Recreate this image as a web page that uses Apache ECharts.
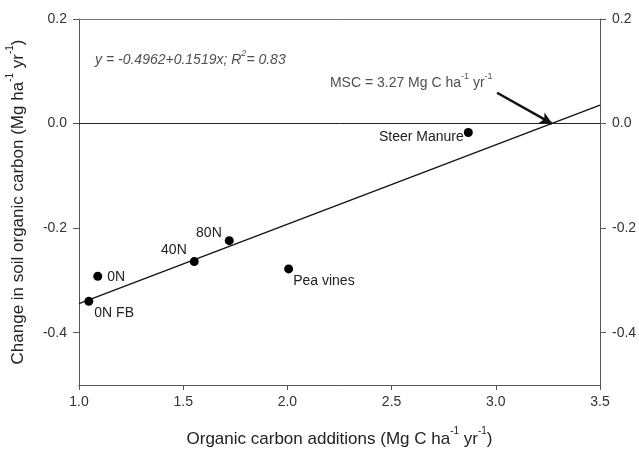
<!DOCTYPE html>
<html>
<head>
<meta charset="utf-8">
<script src="https://cdn.jsdelivr.net/npm/echarts@6/dist/echarts.min.js"></script>
<style>html,body{margin:0;padding:0;background:#fff}#c{width:639px;height:449px}</style>
</head>
<body>
<div id="c"></div>
<script>
// ---- data ----
const pointNames = ['0N FB', '0N', '40N', '80N', 'Pea vines', 'Steer Manure'];
const carbonAdded = [1.047, 1.090, 1.553, 1.721, 2.006, 2.868];
const socChange = [-0.340, -0.292, -0.264, -0.224, -0.278, -0.017];
const intercept = -0.4962;
const slope = 0.1519;
const msc = 3.27;
const xTicks = [1.0, 1.5, 2.0, 2.5, 3.0, 3.5];
const yTicks = [0.2, 0.0, -0.2, -0.4];
const arrowStart = [3.006, 0.059];
const eqAnchor = [1.077, 0.1245];
const mscAnchor = [2.204, 0.081];

// ---- label placement (style) ----
const labelPlace = {
  '0N FB': {position: 'right', distance: 1, offset: [0, 12]},
  '0N': {position: 'right', distance: 5, offset: [0, 1]},
  '40N': {position: 'left', distance: 3, offset: [0, -11]},
  '80N': {position: 'left', distance: 3, offset: [0, -8]},
  'Pea vines': {position: 'right', distance: 0, offset: [0, 12]},
  'Steer Manure': {position: 'left', distance: 0, offset: [0, 5]}
};

const FONT = 'Liberation Sans, Arial, sans-serif';
const TXT = '#333';
const AX = '#555';

const chart = echarts.init(document.getElementById('c'), null, {renderer: 'canvas'});

const supRich = {
  n: {fontSize: 17, color: '#222', fontFamily: FONT, lineHeight: 22, verticalAlign: 'bottom'},
  s: {fontSize: 10, color: '#222', fontFamily: FONT, lineHeight: 22, verticalAlign: 'top'}
};

const scatterData = pointNames.map((n, i) => ({
  name: n,
  value: [carbonAdded[i], socChange[i]],
  label: Object.assign({show: true, formatter: n}, labelPlace[n])
}));

const xMin = xTicks[0], xMax = xTicks[xTicks.length - 1];

chart.setOption({
  animation: false,
  backgroundColor: '#fff',
  grid: {left: 79, right: 39, top: 19, bottom: 64, containLabel: false, outerBoundsMode: 'none'},
  xAxis: [{
    type: 'value', min: xMin, max: xMax, interval: 0.5, position: 'bottom',
    axisLine: {show: true, onZero: false, lineStyle: {color: AX, width: 1}},
    axisTick: {show: true, length: 5, lineStyle: {color: AX}},
    axisLabel: {fontSize: 14, color: TXT, fontFamily: FONT, margin: 10, formatter: v => v.toFixed(1)},
    splitLine: {show: false},
    name: '{n|Organic carbon additions (Mg C ha}{s|-1}{n| yr}{s|-1}{n|)}',
    nameLocation: 'middle', nameGap: 41,
    nameTextStyle: {rich: supRich}
  }, {
    type: 'value', min: xMin, max: xMax, position: 'top',
    axisLine: {show: true, onZero: false, lineStyle: {color: '#777', width: 1}},
    axisTick: {show: false}, axisLabel: {show: false}, splitLine: {show: false}
  }],
  yAxis: [{
    type: 'value', min: -0.5, max: 0.2, position: 'left',
    axisLine: {show: true, onZero: false, lineStyle: {color: AX, width: 1}},
    axisTick: {show: true, length: 6, customValues: yTicks, lineStyle: {color: AX}},
    axisLabel: {fontSize: 14, color: TXT, fontFamily: FONT, margin: 12, customValues: yTicks, formatter: v => v.toFixed(1)},
    splitLine: {show: false},
    name: '{n|Change in soil organic carbon (Mg ha}{s|-1}{n| yr}{s|-1}{n|)}',
    nameLocation: 'middle', nameGap: 52, nameRotate: 90,
    nameTextStyle: {rich: supRich}
  }, {
    type: 'value', min: -0.5, max: 0.2, position: 'right',
    axisLine: {show: true, onZero: false, lineStyle: {color: AX, width: 1}},
    axisTick: {show: true, length: 6, customValues: yTicks, lineStyle: {color: AX}},
    axisLabel: {fontSize: 14, color: TXT, fontFamily: FONT, margin: 12, customValues: yTicks, formatter: v => v.toFixed(1)},
    splitLine: {show: false}
  }],
  series: [{
    type: 'line',
    data: [[xMin, intercept + slope * xMin], [xMax, intercept + slope * xMax]],
    symbol: 'none',
    lineStyle: {color: '#111', width: 1.3},
    z: 2,
    markLine: {
      silent: true, animation: false,
      symbol: ['none', 'none'],
      label: {show: false},
      lineStyle: {color: '#222', width: 1, type: 'solid'},
      data: [{yAxis: 0}]
    }
  }, {
    type: 'line',
    data: [],
    markLine: {
      silent: true, animation: false,
      symbol: ['none', 'arrow'], symbolSize: [9, 12],
      label: {show: false},
      lineStyle: {color: '#111', width: 2.5, type: 'solid'},
      data: [[{coord: arrowStart}, {coord: [msc, 0]}]]
    }
  }, {
    type: 'scatter',
    data: scatterData,
    symbol: 'circle', symbolSize: 9,
    itemStyle: {color: '#000', opacity: 1},
    label: {fontSize: 14, color: '#222', fontFamily: FONT},
    z: 5
  }, {
    type: 'scatter',
    symbolSize: 0,
    silent: true,
    data: [{
      value: eqAnchor,
      label: {
        show: true, position: 'right', distance: 0,
        formatter: '{n|y = -0.4962+0.1519x; R}{s|2}{n|= 0.83}',
        rich: {
          n: {fontSize: 14, fontStyle: 'italic', color: '#222', fontFamily: FONT, lineHeight: 18, verticalAlign: 'bottom'},
          s: {fontSize: 9, fontStyle: 'italic', color: '#222', fontFamily: FONT, lineHeight: 18, verticalAlign: 'top'}
        }
      }
    }, {
      value: mscAnchor,
      label: {
        show: true, position: 'right', distance: 0,
        formatter: '{n|MSC = ' + msc.toFixed(2) + ' Mg C ha}{s|-1}{n| yr}{s|-1}',
        rich: {
          n: {fontSize: 14, color: '#222', fontFamily: FONT, lineHeight: 18, verticalAlign: 'bottom'},
          s: {fontSize: 9, color: '#222', fontFamily: FONT, lineHeight: 18, verticalAlign: 'top'}
        }
      }
    }]
  }]
});
</script>
</body>
</html>
